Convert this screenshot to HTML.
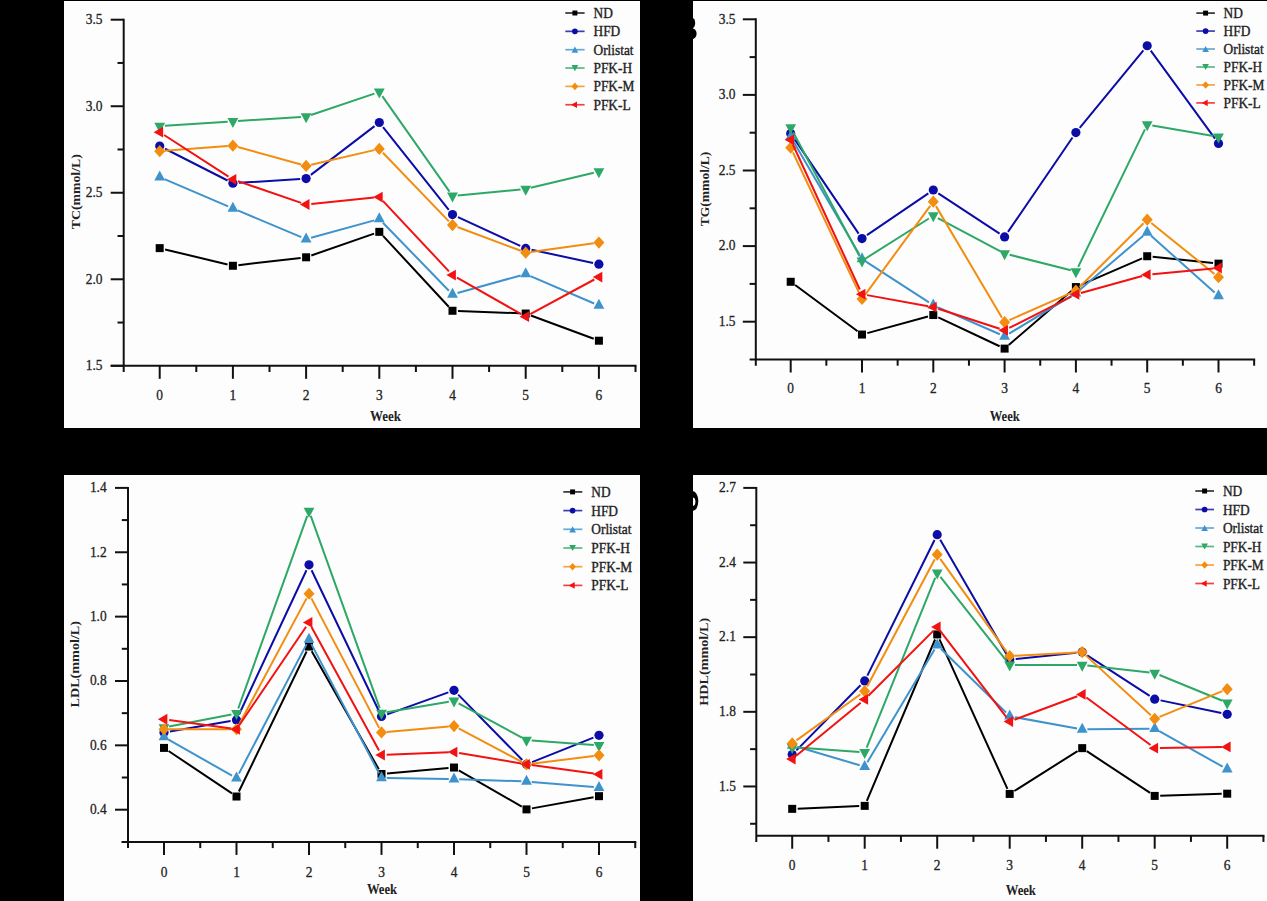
<!DOCTYPE html><html><head><meta charset="utf-8"><style>html,body{margin:0;padding:0;background:#000;}body{width:1267px;height:901px;overflow:hidden;}svg{display:block;}text{font-family:"Liberation Serif",serif;}</style></head><body>
<svg width="1267" height="901" viewBox="0 0 1267 901">
<rect x="0" y="0" width="1267" height="901" fill="#000"/>
<rect x="64" y="1" width="576" height="427" fill="#fdfdfd"/>
<g stroke="#111111" stroke-width="2.0" stroke-linecap="butt"><line x1="123.7" y1="18.7" x2="123.7" y2="372"/><line x1="110.7" y1="365.8" x2="636.5" y2="365.8"/><line x1="110.7" y1="19.7" x2="123.7" y2="19.7"/><line x1="110.7" y1="106.23" x2="123.7" y2="106.23"/><line x1="110.7" y1="192.75" x2="123.7" y2="192.75"/><line x1="110.7" y1="279.28" x2="123.7" y2="279.28"/><line x1="110.7" y1="365.8" x2="123.7" y2="365.8"/><line x1="117.5" y1="62.96" x2="123.7" y2="62.96"/><line x1="117.5" y1="149.49" x2="123.7" y2="149.49"/><line x1="117.5" y1="236.01" x2="123.7" y2="236.01"/><line x1="117.5" y1="322.54" x2="123.7" y2="322.54"/><line x1="159.7" y1="365.8" x2="159.7" y2="378.8"/><line x1="232.9" y1="365.8" x2="232.9" y2="378.8"/><line x1="306.1" y1="365.8" x2="306.1" y2="378.8"/><line x1="379.3" y1="365.8" x2="379.3" y2="378.8"/><line x1="452.5" y1="365.8" x2="452.5" y2="378.8"/><line x1="525.7" y1="365.8" x2="525.7" y2="378.8"/><line x1="598.9" y1="365.8" x2="598.9" y2="378.8"/><line x1="196.3" y1="365.8" x2="196.3" y2="372"/><line x1="269.5" y1="365.8" x2="269.5" y2="372"/><line x1="342.7" y1="365.8" x2="342.7" y2="372"/><line x1="415.9" y1="365.8" x2="415.9" y2="372"/><line x1="489.1" y1="365.8" x2="489.1" y2="372"/><line x1="562.3" y1="365.8" x2="562.3" y2="372"/><line x1="635.5" y1="365.8" x2="635.5" y2="372"/></g>
<g font-size="14.6" fill="#222222" stroke="#222222" stroke-width="0.3"><text transform="translate(102.5,24) scale(0.92,1)" text-anchor="end">3.5</text><text transform="translate(102.5,110.53) scale(0.92,1)" text-anchor="end">3.0</text><text transform="translate(102.5,197.05) scale(0.92,1)" text-anchor="end">2.5</text><text transform="translate(102.5,283.58) scale(0.92,1)" text-anchor="end">2.0</text><text transform="translate(102.5,370.1) scale(0.92,1)" text-anchor="end">1.5</text><text transform="translate(159.7,399.5) scale(0.92,1)" text-anchor="middle">0</text><text transform="translate(232.9,399.5) scale(0.92,1)" text-anchor="middle">1</text><text transform="translate(306.1,399.5) scale(0.92,1)" text-anchor="middle">2</text><text transform="translate(379.3,399.5) scale(0.92,1)" text-anchor="middle">3</text><text transform="translate(452.5,399.5) scale(0.92,1)" text-anchor="middle">4</text><text transform="translate(525.7,399.5) scale(0.92,1)" text-anchor="middle">5</text><text transform="translate(598.9,399.5) scale(0.92,1)" text-anchor="middle">6</text></g>
<text x="370.1" y="420.9" font-size="14" font-weight="bold" fill="#222222" textLength="31" lengthAdjust="spacingAndGlyphs">Week</text>
<text transform="translate(79.8,191.7) rotate(-90)" x="0" y="0" font-size="13" font-weight="bold" fill="#222222" text-anchor="middle" textLength="75" lengthAdjust="spacingAndGlyphs">TC(mmol/L)</text>
<path d="M165.05 249.42L227.55 264.49M238.36 265.14L300.64 257.93M311.3 255.49L374.1 233.66M383.04 235.89L448.76 306.74M458 310.98L520.2 313.33M530.86 315.45L593.74 338.79" stroke="#000000" stroke-width="2" fill="none"/>
<rect x="155.7" y="244.13" width="8" height="8" fill="#000000"/><rect x="228.9" y="261.78" width="8" height="8" fill="#000000"/><rect x="302.1" y="253.3" width="8" height="8" fill="#000000"/><rect x="375.3" y="227.86" width="8" height="8" fill="#000000"/><rect x="448.5" y="306.77" width="8" height="8" fill="#000000"/><rect x="521.7" y="309.54" width="8" height="8" fill="#000000"/><rect x="594.9" y="336.71" width="8" height="8" fill="#000000"/>
<path d="M165.05 148.75L227.55 180.51M238.89 182.85L300.11 178.94M310.86 174.91L374.54 126.14M383.03 127.19L448.77 209.86M457.94 217.08L520.26 245.95M531.57 249.73L593.03 262.96" stroke="#0c0ca6" stroke-width="2" fill="none"/>
<circle cx="159.7" cy="146.03" r="4.6" fill="#0c0ca6"/><circle cx="232.9" cy="183.23" r="4.6" fill="#0c0ca6"/><circle cx="306.1" cy="178.56" r="4.6" fill="#0c0ca6"/><circle cx="379.3" cy="122.49" r="4.6" fill="#0c0ca6"/><circle cx="452.5" cy="214.55" r="4.6" fill="#0c0ca6"/><circle cx="525.7" cy="248.47" r="4.6" fill="#0c0ca6"/><circle cx="598.9" cy="264.22" r="4.6" fill="#0c0ca6"/>
<path d="M164.48 179.16L228.12 206.39M237.7 210.44L301.3 237.06M311.11 237.69L374.29 220.37M382.92 222.73L448.88 290.71M457.51 293.05L520.69 275.42M530.48 276.08L594.12 303.46" stroke="#3f93cc" stroke-width="2" fill="none"/>
<polygon points="159.7,170.44 165.1,180.44 154.3,180.44" fill="#3f93cc"/><polygon points="232.9,201.77 238.3,211.77 227.5,211.77" fill="#3f93cc"/><polygon points="306.1,232.4 311.5,242.4 300.7,242.4" fill="#3f93cc"/><polygon points="379.3,212.32 384.7,222.32 373.9,222.32" fill="#3f93cc"/><polygon points="452.5,287.77 457.9,297.77 447.1,297.77" fill="#3f93cc"/><polygon points="525.7,267.35 531.1,277.35 520.3,277.35" fill="#3f93cc"/><polygon points="598.9,298.85 604.3,308.85 593.5,308.85" fill="#3f93cc"/>
<path d="M164.89 125.84L227.71 121.68M238.09 121.01L300.91 117M311.03 115L374.37 93.59M382.29 96.17L449.51 191.67M457.68 195.44L520.52 189.49M530.76 187.8L593.84 172.73" stroke="#2ea866" stroke-width="2" fill="none"/>
<polygon points="154.3,122.86 165.1,122.86 159.7,132.86" fill="#2ea866"/><polygon points="227.5,118.01 238.3,118.01 232.9,128.01" fill="#2ea866"/><polygon points="300.7,113.34 311.5,113.34 306.1,123.34" fill="#2ea866"/><polygon points="373.9,88.59 384.7,88.59 379.3,98.59" fill="#2ea866"/><polygon points="447.1,192.6 457.9,192.6 452.5,202.6" fill="#2ea866"/><polygon points="520.3,185.67 531.1,185.67 525.7,195.67" fill="#2ea866"/><polygon points="593.5,168.2 604.3,168.2 598.9,178.2" fill="#2ea866"/>
<path d="M164.89 150.83L227.71 146.07M237.91 147.07L301.09 164.54M311.17 164.75L374.23 150.14M382.9 152.72L448.9 221.36M457.37 226.94L520.83 250.8M530.85 251.92L593.75 243.29" stroke="#f28d10" stroke-width="2" fill="none"/>
<polygon points="159.7,145.12 165.2,151.22 159.7,157.32 154.2,151.22" fill="#f28d10"/><polygon points="232.9,139.58 238.4,145.68 232.9,151.78 227.4,145.68" fill="#f28d10"/><polygon points="306.1,159.83 311.6,165.93 306.1,172.03 300.6,165.93" fill="#f28d10"/><polygon points="379.3,142.87 384.8,148.97 379.3,155.07 373.8,148.97" fill="#f28d10"/><polygon points="452.5,219.01 458,225.11 452.5,231.21 447,225.11" fill="#f28d10"/><polygon points="525.7,246.53 531.2,252.63 525.7,258.73 520.2,252.63" fill="#f28d10"/><polygon points="598.9,236.49 604.4,242.59 598.9,248.69 593.4,242.59" fill="#f28d10"/>
<path d="M164.07 135L228.53 176.61M237.82 181.11L301.18 202.83M311.27 203.99L374.13 197.6M382.86 200.87L448.94 271.33M457.02 277.69L521.18 314.09M530.27 314.18L594.33 279.5" stroke="#f21212" stroke-width="2" fill="none"/>
<polygon points="153.6,132.18 163.1,126.78 163.1,137.58" fill="#f21212"/><polygon points="226.8,179.43 236.3,174.03 236.3,184.83" fill="#f21212"/><polygon points="300,204.52 309.5,199.12 309.5,209.92" fill="#f21212"/><polygon points="373.2,197.08 382.7,191.68 382.7,202.48" fill="#f21212"/><polygon points="446.4,275.12 455.9,269.72 455.9,280.52" fill="#f21212"/><polygon points="519.6,316.65 529.1,311.25 529.1,322.05" fill="#f21212"/><polygon points="592.8,277.03 602.3,271.63 602.3,282.43" fill="#f21212"/>
<line x1="565.3" y1="13" x2="584.6" y2="13" stroke="#000000" stroke-width="1.7" stroke-opacity="0.8"/>
<rect x="572.42" y="10.52" width="4.96" height="4.96" fill="#000000"/>
<text transform="translate(593.5,18) scale(0.955,1)" font-size="14" fill="#222222" stroke="#222222" stroke-width="0.35">ND</text>
<line x1="565.3" y1="31.35" x2="584.6" y2="31.35" stroke="#0c0ca6" stroke-width="1.7" stroke-opacity="0.8"/>
<circle cx="574.9" cy="31.35" r="2.85" fill="#0c0ca6"/>
<text transform="translate(593.5,36.35) scale(0.955,1)" font-size="14" fill="#222222" stroke="#222222" stroke-width="0.35">HFD</text>
<line x1="565.3" y1="49.7" x2="584.6" y2="49.7" stroke="#3f93cc" stroke-width="1.7" stroke-opacity="0.8"/>
<polygon points="574.9,46.6 578.25,52.8 571.55,52.8" fill="#3f93cc"/>
<text transform="translate(593.5,54.7) scale(0.955,1)" font-size="14" fill="#222222" stroke="#222222" stroke-width="0.35">Orlistat</text>
<line x1="565.3" y1="68.05" x2="584.6" y2="68.05" stroke="#2ea866" stroke-width="1.7" stroke-opacity="0.8"/>
<polygon points="571.55,64.95 578.25,64.95 574.9,71.15" fill="#2ea866"/>
<text transform="translate(593.5,73.05) scale(0.955,1)" font-size="14" fill="#222222" stroke="#222222" stroke-width="0.35">PFK-H</text>
<line x1="565.3" y1="86.4" x2="584.6" y2="86.4" stroke="#f28d10" stroke-width="1.7" stroke-opacity="0.8"/>
<polygon points="574.9,82.62 578.31,86.4 574.9,90.18 571.49,86.4" fill="#f28d10"/>
<text transform="translate(593.5,91.4) scale(0.955,1)" font-size="14" fill="#222222" stroke="#222222" stroke-width="0.35">PFK-M</text>
<line x1="565.3" y1="104.75" x2="584.6" y2="104.75" stroke="#f21212" stroke-width="1.7" stroke-opacity="0.8"/>
<polygon points="571.12,104.75 577.01,101.4 577.01,108.1" fill="#f21212"/>
<text transform="translate(593.5,109.75) scale(0.955,1)" font-size="14" fill="#222222" stroke="#222222" stroke-width="0.35">PFK-L</text>
<rect x="693" y="1" width="574" height="427" fill="#fdfdfd"/>
<ellipse cx="692" cy="23" rx="3.2" ry="5.3" fill="#000"/>
<ellipse cx="692" cy="33.6" rx="4.6" ry="5.4" fill="#000"/>
<rect x="640" y="1" width="53" height="427" fill="#000"/>
<g stroke="#111111" stroke-width="2.0" stroke-linecap="butt"><line x1="755.8" y1="18.3" x2="755.8" y2="365.7"/><line x1="749.6" y1="359.5" x2="1255.15" y2="359.5"/><line x1="742.8" y1="19.3" x2="755.8" y2="19.3"/><line x1="742.8" y1="94.9" x2="755.8" y2="94.9"/><line x1="742.8" y1="170.5" x2="755.8" y2="170.5"/><line x1="742.8" y1="246.1" x2="755.8" y2="246.1"/><line x1="742.8" y1="321.7" x2="755.8" y2="321.7"/><line x1="749.6" y1="57.1" x2="755.8" y2="57.1"/><line x1="749.6" y1="132.7" x2="755.8" y2="132.7"/><line x1="749.6" y1="208.3" x2="755.8" y2="208.3"/><line x1="749.6" y1="283.9" x2="755.8" y2="283.9"/><line x1="790.7" y1="359.5" x2="790.7" y2="372.5"/><line x1="862" y1="359.5" x2="862" y2="372.5"/><line x1="933.3" y1="359.5" x2="933.3" y2="372.5"/><line x1="1004.6" y1="359.5" x2="1004.6" y2="372.5"/><line x1="1075.9" y1="359.5" x2="1075.9" y2="372.5"/><line x1="1147.2" y1="359.5" x2="1147.2" y2="372.5"/><line x1="1218.5" y1="359.5" x2="1218.5" y2="372.5"/><line x1="826.35" y1="359.5" x2="826.35" y2="365.7"/><line x1="897.65" y1="359.5" x2="897.65" y2="365.7"/><line x1="968.95" y1="359.5" x2="968.95" y2="365.7"/><line x1="1040.25" y1="359.5" x2="1040.25" y2="365.7"/><line x1="1111.55" y1="359.5" x2="1111.55" y2="365.7"/><line x1="1182.85" y1="359.5" x2="1182.85" y2="365.7"/><line x1="1254.15" y1="359.5" x2="1254.15" y2="365.7"/></g>
<g font-size="14.6" fill="#222222" stroke="#222222" stroke-width="0.3"><text transform="translate(735.5,23.6) scale(0.92,1)" text-anchor="end">3.5</text><text transform="translate(735.5,99.2) scale(0.92,1)" text-anchor="end">3.0</text><text transform="translate(735.5,174.8) scale(0.92,1)" text-anchor="end">2.5</text><text transform="translate(735.5,250.4) scale(0.92,1)" text-anchor="end">2.0</text><text transform="translate(735.5,326) scale(0.92,1)" text-anchor="end">1.5</text><text transform="translate(790.7,393.4) scale(0.92,1)" text-anchor="middle">0</text><text transform="translate(862,393.4) scale(0.92,1)" text-anchor="middle">1</text><text transform="translate(933.3,393.4) scale(0.92,1)" text-anchor="middle">2</text><text transform="translate(1004.6,393.4) scale(0.92,1)" text-anchor="middle">3</text><text transform="translate(1075.9,393.4) scale(0.92,1)" text-anchor="middle">4</text><text transform="translate(1147.2,393.4) scale(0.92,1)" text-anchor="middle">5</text><text transform="translate(1218.5,393.4) scale(0.92,1)" text-anchor="middle">6</text></g>
<text x="989.7" y="421.25" font-size="14" font-weight="bold" fill="#222222" textLength="30.1" lengthAdjust="spacingAndGlyphs">Week</text>
<text transform="translate(708.9,189) rotate(-90)" x="0" y="0" font-size="13" font-weight="bold" fill="#222222" text-anchor="middle" textLength="74.6" lengthAdjust="spacingAndGlyphs">TG(mmol/L)</text>
<path d="M795.12 285.06L857.58 331.28M867.31 333.1L927.99 316.5M938.28 317.39L999.62 346.27M1008.76 345.02L1071.74 290.67M1080.95 284.89L1142.15 258.41M1152.67 256.8L1213.03 263.07" stroke="#000000" stroke-width="2" fill="none"/>
<rect x="786.7" y="277.78" width="8" height="8" fill="#000000"/><rect x="858" y="330.55" width="8" height="8" fill="#000000"/><rect x="929.3" y="311.05" width="8" height="8" fill="#000000"/><rect x="1000.6" y="344.61" width="8" height="8" fill="#000000"/><rect x="1071.9" y="283.08" width="8" height="8" fill="#000000"/><rect x="1143.2" y="252.23" width="8" height="8" fill="#000000"/><rect x="1214.5" y="259.64" width="8" height="8" fill="#000000"/>
<path d="M794.07 138.42L858.63 233.57M866.96 235.16L928.34 193.38M938.31 193.3L999.59 233.58M1007.99 231.92L1072.51 137.5M1079.71 127.91L1143.39 50.4M1150.74 50.61L1214.96 138.59" stroke="#0c0ca6" stroke-width="2" fill="none"/>
<circle cx="790.7" cy="133.46" r="4.6" fill="#0c0ca6"/><circle cx="862" cy="238.54" r="4.6" fill="#0c0ca6"/><circle cx="933.3" cy="190" r="4.6" fill="#0c0ca6"/><circle cx="1004.6" cy="236.88" r="4.6" fill="#0c0ca6"/><circle cx="1075.9" cy="132.55" r="4.6" fill="#0c0ca6"/><circle cx="1147.2" cy="45.76" r="4.6" fill="#0c0ca6"/><circle cx="1218.5" cy="143.44" r="4.6" fill="#0c0ca6"/>
<path d="M793.32 141.13L859.38 254.47M866.36 261.79L928.94 302.4M938.07 307.31L999.83 334.29M1009.05 333.68L1071.45 295.83M1079.86 289.76L1143.24 235.72M1151.08 235.81L1214.62 292.54" stroke="#3f93cc" stroke-width="2" fill="none"/>
<polygon points="790.7,129.97 796.1,139.97 785.3,139.97" fill="#3f93cc"/><polygon points="862,252.29 867.4,262.29 856.6,262.29" fill="#3f93cc"/><polygon points="933.3,298.56 938.7,308.56 927.9,308.56" fill="#3f93cc"/><polygon points="1004.6,329.7 1010,339.7 999.2,339.7" fill="#3f93cc"/><polygon points="1075.9,286.46 1081.3,296.46 1070.5,296.46" fill="#3f93cc"/><polygon points="1147.2,225.68 1152.6,235.68 1141.8,235.68" fill="#3f93cc"/><polygon points="1218.5,289.33 1223.9,299.33 1213.1,299.33" fill="#3f93cc"/>
<path d="M793.16 132.29L859.54 256.18M866.4 257.98L928.9 218.48M937.89 218.14L1000.01 251.07M1009.64 254.77L1070.86 270.22M1078.17 266.82L1144.93 129.36M1152.33 125.55L1213.37 135.91" stroke="#2ea866" stroke-width="2" fill="none"/>
<polygon points="785.3,124.37 796.1,124.37 790.7,134.37" fill="#2ea866"/><polygon points="856.6,257.43 867.4,257.43 862,267.43" fill="#2ea866"/><polygon points="927.9,212.37 938.7,212.37 933.3,222.37" fill="#2ea866"/><polygon points="999.2,250.17 1010,250.17 1004.6,260.17" fill="#2ea866"/><polygon points="1070.5,268.16 1081.3,268.16 1075.9,278.16" fill="#2ea866"/><polygon points="1141.8,121.35 1152.6,121.35 1147.2,131.35" fill="#2ea866"/><polygon points="1213.1,133.45 1223.9,133.45 1218.5,143.45" fill="#2ea866"/>
<path d="M792.92 152.37L859.78 294.32M865.07 294.82L930.23 205.84M935.95 206.12L1001.95 317.68M1009.36 320.06L1071.14 292.8M1079.58 287.03L1143.52 223.31M1151.24 222.91L1214.46 273.98" stroke="#f28d10" stroke-width="2" fill="none"/>
<polygon points="790.7,141.57 796.2,147.67 790.7,153.77 785.2,147.67" fill="#f28d10"/><polygon points="862,292.92 867.5,299.02 862,305.12 856.5,299.02" fill="#f28d10"/><polygon points="933.3,195.55 938.8,201.65 933.3,207.75 927.8,201.65" fill="#f28d10"/><polygon points="1004.6,316.05 1010.1,322.15 1004.6,328.25 999.1,322.15" fill="#f28d10"/><polygon points="1075.9,284.6 1081.4,290.7 1075.9,296.8 1070.4,290.7" fill="#f28d10"/><polygon points="1147.2,213.54 1152.7,219.64 1147.2,225.74 1141.7,219.64" fill="#f28d10"/><polygon points="1218.5,271.15 1224,277.25 1218.5,283.35 1213,277.25" fill="#f28d10"/>
<path d="M792.88 144.53L859.82 289.46M867.12 295.11L928.18 306.25M938.25 308.79L999.65 328.71M1009.24 327.98L1071.26 296.68M1080.91 292.95L1142.19 276.06M1152.38 274.19L1213.32 268.51" stroke="#f21212" stroke-width="2" fill="none"/>
<polygon points="784.6,139.81 794.1,134.41 794.1,145.21" fill="#f21212"/><polygon points="855.9,294.18 865.4,288.78 865.4,299.58" fill="#f21212"/><polygon points="927.2,307.18 936.7,301.78 936.7,312.58" fill="#f21212"/><polygon points="998.5,330.32 1008,324.92 1008,335.72" fill="#f21212"/><polygon points="1069.8,294.33 1079.3,288.93 1079.3,299.73" fill="#f21212"/><polygon points="1141.1,274.68 1150.6,269.28 1150.6,280.08" fill="#f21212"/><polygon points="1212.4,268.02 1221.9,262.62 1221.9,273.42" fill="#f21212"/>
<line x1="1196.3" y1="13.1" x2="1214.9" y2="13.1" stroke="#000000" stroke-width="1.7" stroke-opacity="0.8"/>
<rect x="1203.12" y="10.62" width="4.96" height="4.96" fill="#000000"/>
<text transform="translate(1223.6,18.1) scale(0.955,1)" font-size="14" fill="#222222" stroke="#222222" stroke-width="0.35">ND</text>
<line x1="1196.3" y1="31.06" x2="1214.9" y2="31.06" stroke="#0c0ca6" stroke-width="1.7" stroke-opacity="0.8"/>
<circle cx="1205.6" cy="31.06" r="2.85" fill="#0c0ca6"/>
<text transform="translate(1223.6,36.06) scale(0.955,1)" font-size="14" fill="#222222" stroke="#222222" stroke-width="0.35">HFD</text>
<line x1="1196.3" y1="49.02" x2="1214.9" y2="49.02" stroke="#3f93cc" stroke-width="1.7" stroke-opacity="0.8"/>
<polygon points="1205.6,45.92 1208.95,52.12 1202.25,52.12" fill="#3f93cc"/>
<text transform="translate(1223.6,54.02) scale(0.955,1)" font-size="14" fill="#222222" stroke="#222222" stroke-width="0.35">Orlistat</text>
<line x1="1196.3" y1="66.98" x2="1214.9" y2="66.98" stroke="#2ea866" stroke-width="1.7" stroke-opacity="0.8"/>
<polygon points="1202.25,63.88 1208.95,63.88 1205.6,70.08" fill="#2ea866"/>
<text transform="translate(1223.6,71.98) scale(0.955,1)" font-size="14" fill="#222222" stroke="#222222" stroke-width="0.35">PFK-H</text>
<line x1="1196.3" y1="84.94" x2="1214.9" y2="84.94" stroke="#f28d10" stroke-width="1.7" stroke-opacity="0.8"/>
<polygon points="1205.6,81.16 1209.01,84.94 1205.6,88.72 1202.19,84.94" fill="#f28d10"/>
<text transform="translate(1223.6,89.94) scale(0.955,1)" font-size="14" fill="#222222" stroke="#222222" stroke-width="0.35">PFK-M</text>
<line x1="1196.3" y1="102.9" x2="1214.9" y2="102.9" stroke="#f21212" stroke-width="1.7" stroke-opacity="0.8"/>
<polygon points="1201.82,102.9 1207.71,99.55 1207.71,106.25" fill="#f21212"/>
<text transform="translate(1223.6,107.9) scale(0.955,1)" font-size="14" fill="#222222" stroke="#222222" stroke-width="0.35">PFK-L</text>
<rect x="64" y="475" width="576" height="426" fill="#fdfdfd"/>
<g stroke="#111111" stroke-width="2.0" stroke-linecap="butt"><line x1="128" y1="486.9" x2="128" y2="848.08"/><line x1="121.5" y1="841.88" x2="636.25" y2="841.88"/><line x1="115" y1="487.9" x2="128" y2="487.9"/><line x1="115" y1="552.26" x2="128" y2="552.26"/><line x1="115" y1="616.62" x2="128" y2="616.62"/><line x1="115" y1="680.98" x2="128" y2="680.98"/><line x1="115" y1="745.34" x2="128" y2="745.34"/><line x1="115" y1="809.7" x2="128" y2="809.7"/><line x1="121.8" y1="520.08" x2="128" y2="520.08"/><line x1="121.8" y1="584.44" x2="128" y2="584.44"/><line x1="121.8" y1="648.8" x2="128" y2="648.8"/><line x1="121.8" y1="713.16" x2="128" y2="713.16"/><line x1="121.8" y1="777.52" x2="128" y2="777.52"/><line x1="164" y1="841.88" x2="164" y2="854.88"/><line x1="236.5" y1="841.88" x2="236.5" y2="854.88"/><line x1="309" y1="841.88" x2="309" y2="854.88"/><line x1="381.5" y1="841.88" x2="381.5" y2="854.88"/><line x1="454" y1="841.88" x2="454" y2="854.88"/><line x1="526.5" y1="841.88" x2="526.5" y2="854.88"/><line x1="599" y1="841.88" x2="599" y2="854.88"/><line x1="200.25" y1="841.88" x2="200.25" y2="848.08"/><line x1="272.75" y1="841.88" x2="272.75" y2="848.08"/><line x1="345.25" y1="841.88" x2="345.25" y2="848.08"/><line x1="417.75" y1="841.88" x2="417.75" y2="848.08"/><line x1="490.25" y1="841.88" x2="490.25" y2="848.08"/><line x1="562.75" y1="841.88" x2="562.75" y2="848.08"/><line x1="635.25" y1="841.88" x2="635.25" y2="848.08"/></g>
<g font-size="14.6" fill="#222222" stroke="#222222" stroke-width="0.3"><text transform="translate(106.7,492.2) scale(0.92,1)" text-anchor="end">1.4</text><text transform="translate(106.7,556.56) scale(0.92,1)" text-anchor="end">1.2</text><text transform="translate(106.7,620.92) scale(0.92,1)" text-anchor="end">1.0</text><text transform="translate(106.7,685.28) scale(0.92,1)" text-anchor="end">0.8</text><text transform="translate(106.7,749.64) scale(0.92,1)" text-anchor="end">0.6</text><text transform="translate(106.7,814) scale(0.92,1)" text-anchor="end">0.4</text><text transform="translate(164,877.28) scale(0.92,1)" text-anchor="middle">0</text><text transform="translate(236.5,877.28) scale(0.92,1)" text-anchor="middle">1</text><text transform="translate(309,877.28) scale(0.92,1)" text-anchor="middle">2</text><text transform="translate(381.5,877.28) scale(0.92,1)" text-anchor="middle">3</text><text transform="translate(454,877.28) scale(0.92,1)" text-anchor="middle">4</text><text transform="translate(526.5,877.28) scale(0.92,1)" text-anchor="middle">5</text><text transform="translate(599,877.28) scale(0.92,1)" text-anchor="middle">6</text></g>
<text x="366.9" y="894.4" font-size="14" font-weight="bold" fill="#222222" textLength="30.2" lengthAdjust="spacingAndGlyphs">Week</text>
<text transform="translate(79.3,664.25) rotate(-90)" x="0" y="0" font-size="13" font-weight="bold" fill="#222222" text-anchor="middle" textLength="86.5" lengthAdjust="spacingAndGlyphs">LDL(mmol/L)</text>
<path d="M168.57 750.98L231.93 793.44M238.89 791.55L306.61 651.5M311.72 651.33L378.78 769.2M386.98 773.49L448.52 768.03M458.76 770.29L521.74 806.63M531.91 808.39L593.59 797.17" stroke="#000000" stroke-width="2" fill="none"/>
<rect x="160" y="743.91" width="8" height="8" fill="#000000"/><rect x="232.5" y="792.51" width="8" height="8" fill="#000000"/><rect x="305" y="642.55" width="8" height="8" fill="#000000"/><rect x="377.5" y="769.98" width="8" height="8" fill="#000000"/><rect x="450" y="763.54" width="8" height="8" fill="#000000"/><rect x="522.5" y="805.38" width="8" height="8" fill="#000000"/><rect x="595" y="792.18" width="8" height="8" fill="#000000"/>
<path d="M169.91 731.44L230.59 720.94M239.04 714.48L306.46 570.25M311.59 570.22L378.91 710.97M387.15 714.35L448.35 692.34M458.2 694.6L522.3 760.04M532.07 762.1L593.43 737.59" stroke="#0c0ca6" stroke-width="2" fill="none"/>
<circle cx="164" cy="732.47" r="4.6" fill="#0c0ca6"/><circle cx="236.5" cy="719.92" r="4.6" fill="#0c0ca6"/><circle cx="309" cy="564.81" r="4.6" fill="#0c0ca6"/><circle cx="381.5" cy="716.38" r="4.6" fill="#0c0ca6"/><circle cx="454" cy="690.31" r="4.6" fill="#0c0ca6"/><circle cx="526.5" cy="764.33" r="4.6" fill="#0c0ca6"/><circle cx="599" cy="735.36" r="4.6" fill="#0c0ca6"/>
<path d="M168.52 739.6L231.98 775.66M238.91 773.62L306.59 644.14M311.41 644.13L379.09 773.3M386.7 778L448.8 779.1M459.2 779.35L521.3 781.28M531.68 781.88L593.82 787.12" stroke="#3f93cc" stroke-width="2" fill="none"/>
<polygon points="164,730.36 169.4,740.36 158.6,740.36" fill="#3f93cc"/><polygon points="236.5,771.55 241.9,781.55 231.1,781.55" fill="#3f93cc"/><polygon points="309,632.86 314.4,642.86 303.6,642.86" fill="#3f93cc"/><polygon points="381.5,771.23 386.9,781.23 376.1,781.23" fill="#3f93cc"/><polygon points="454,772.52 459.4,782.52 448.6,782.52" fill="#3f93cc"/><polygon points="526.5,774.77 531.9,784.77 521.1,784.77" fill="#3f93cc"/><polygon points="599,780.89 604.4,790.89 593.6,790.89" fill="#3f93cc"/>
<path d="M169.1 726.58L231.4 714.42M238.25 708.53L307.25 515.9M310.76 515.9L379.74 708.2M386.63 712.23L448.87 701.74M458.57 703.35L521.93 737.65M531.69 740.5L593.81 744.91" stroke="#2ea866" stroke-width="2" fill="none"/>
<polygon points="158.6,724.25 169.4,724.25 164,734.25" fill="#2ea866"/><polygon points="231.1,710.09 241.9,710.09 236.5,720.09" fill="#2ea866"/><polygon points="303.6,507.68 314.4,507.68 309,517.68" fill="#2ea866"/><polygon points="376.1,709.77 386.9,709.77 381.5,719.77" fill="#2ea866"/><polygon points="448.6,697.54 459.4,697.54 454,707.54" fill="#2ea866"/><polygon points="521.1,736.8 531.9,736.8 526.5,746.8" fill="#2ea866"/><polygon points="593.6,741.95 604.4,741.95 599,751.95" fill="#2ea866"/>
<path d="M169.2 729.25L231.3 729.25M238.95 724.67L306.55 598.36M311.41 598.38L379.09 727.86M386.68 732.01L448.82 726.49M458.6 728.46L521.9 761.9M531.66 763.68L593.84 755.96" stroke="#f28d10" stroke-width="2" fill="none"/>
<polygon points="164,723.15 169.5,729.25 164,735.35 158.5,729.25" fill="#f28d10"/><polygon points="236.5,723.15 242,729.25 236.5,735.35 231,729.25" fill="#f28d10"/><polygon points="309,587.67 314.5,593.77 309,599.87 303.5,593.77" fill="#f28d10"/><polygon points="381.5,726.37 387,732.47 381.5,738.57 376,732.47" fill="#f28d10"/><polygon points="454,719.93 459.5,726.03 454,732.13 448.5,726.03" fill="#f28d10"/><polygon points="526.5,758.23 532,764.33 526.5,770.43 521,764.33" fill="#f28d10"/><polygon points="599,749.22 604.5,755.32 599,761.42 593.5,755.32" fill="#f28d10"/>
<path d="M169.15 719.98L231.35 728.54M239.42 724.95L306.08 626.72M311.49 626.97L379.01 750.43M386.7 754.79L448.8 752.31M459.13 752.96L521.37 763.46M531.65 765.04L593.85 773.59" stroke="#f21212" stroke-width="2" fill="none"/>
<polygon points="157.9,719.27 167.4,713.87 167.4,724.67" fill="#f21212"/><polygon points="230.4,729.25 239.9,723.85 239.9,734.65" fill="#f21212"/><polygon points="302.9,622.41 312.4,617.01 312.4,627.81" fill="#f21212"/><polygon points="375.4,754.99 384.9,749.59 384.9,760.39" fill="#f21212"/><polygon points="447.9,752.1 457.4,746.7 457.4,757.5" fill="#f21212"/><polygon points="520.4,764.33 529.9,758.93 529.9,769.73" fill="#f21212"/><polygon points="592.9,774.3 602.4,768.9 602.4,779.7" fill="#f21212"/>
<line x1="563.3" y1="491.9" x2="582.3" y2="491.9" stroke="#000000" stroke-width="1.7" stroke-opacity="0.8"/>
<rect x="570.12" y="489.42" width="4.96" height="4.96" fill="#000000"/>
<text transform="translate(591.3,496.9) scale(0.955,1)" font-size="14" fill="#222222" stroke="#222222" stroke-width="0.35">ND</text>
<line x1="563.3" y1="510.6" x2="582.3" y2="510.6" stroke="#0c0ca6" stroke-width="1.7" stroke-opacity="0.8"/>
<circle cx="572.6" cy="510.6" r="2.85" fill="#0c0ca6"/>
<text transform="translate(591.3,515.6) scale(0.955,1)" font-size="14" fill="#222222" stroke="#222222" stroke-width="0.35">HFD</text>
<line x1="563.3" y1="529.3" x2="582.3" y2="529.3" stroke="#3f93cc" stroke-width="1.7" stroke-opacity="0.8"/>
<polygon points="572.6,526.2 575.95,532.4 569.25,532.4" fill="#3f93cc"/>
<text transform="translate(591.3,534.3) scale(0.955,1)" font-size="14" fill="#222222" stroke="#222222" stroke-width="0.35">Orlistat</text>
<line x1="563.3" y1="548" x2="582.3" y2="548" stroke="#2ea866" stroke-width="1.7" stroke-opacity="0.8"/>
<polygon points="569.25,544.9 575.95,544.9 572.6,551.1" fill="#2ea866"/>
<text transform="translate(591.3,553) scale(0.955,1)" font-size="14" fill="#222222" stroke="#222222" stroke-width="0.35">PFK-H</text>
<line x1="563.3" y1="566.7" x2="582.3" y2="566.7" stroke="#f28d10" stroke-width="1.7" stroke-opacity="0.8"/>
<polygon points="572.6,562.92 576.01,566.7 572.6,570.48 569.19,566.7" fill="#f28d10"/>
<text transform="translate(591.3,571.7) scale(0.955,1)" font-size="14" fill="#222222" stroke="#222222" stroke-width="0.35">PFK-M</text>
<line x1="563.3" y1="585.4" x2="582.3" y2="585.4" stroke="#f21212" stroke-width="1.7" stroke-opacity="0.8"/>
<polygon points="568.82,585.4 574.71,582.05 574.71,588.75" fill="#f21212"/>
<text transform="translate(591.3,590.4) scale(0.955,1)" font-size="14" fill="#222222" stroke="#222222" stroke-width="0.35">PFK-L</text>
<rect x="693" y="475" width="574" height="426" fill="#fdfdfd"/>
<ellipse cx="692.5" cy="501.1" rx="5.8" ry="10" fill="#000"/>
<ellipse cx="692.5" cy="501.8" rx="2.9" ry="4.2" fill="#fdfdfd"/>
<rect x="640" y="475" width="53" height="426" fill="#000"/>
<g stroke="#111111" stroke-width="2.0" stroke-linecap="butt"><line x1="756.3" y1="486.9" x2="756.3" y2="841.92"/><line x1="756.3" y1="835.72" x2="1264.45" y2="835.72"/><line x1="743.3" y1="487.9" x2="756.3" y2="487.9"/><line x1="743.3" y1="562.54" x2="756.3" y2="562.54"/><line x1="743.3" y1="637.18" x2="756.3" y2="637.18"/><line x1="743.3" y1="711.82" x2="756.3" y2="711.82"/><line x1="743.3" y1="786.46" x2="756.3" y2="786.46"/><line x1="750.1" y1="525.22" x2="756.3" y2="525.22"/><line x1="750.1" y1="599.86" x2="756.3" y2="599.86"/><line x1="750.1" y1="674.5" x2="756.3" y2="674.5"/><line x1="750.1" y1="749.14" x2="756.3" y2="749.14"/><line x1="750.1" y1="823.78" x2="756.3" y2="823.78"/><line x1="792.2" y1="835.72" x2="792.2" y2="848.72"/><line x1="864.7" y1="835.72" x2="864.7" y2="848.72"/><line x1="937.2" y1="835.72" x2="937.2" y2="848.72"/><line x1="1009.7" y1="835.72" x2="1009.7" y2="848.72"/><line x1="1082.2" y1="835.72" x2="1082.2" y2="848.72"/><line x1="1154.7" y1="835.72" x2="1154.7" y2="848.72"/><line x1="1227.2" y1="835.72" x2="1227.2" y2="848.72"/><line x1="828.45" y1="835.72" x2="828.45" y2="841.92"/><line x1="900.95" y1="835.72" x2="900.95" y2="841.92"/><line x1="973.45" y1="835.72" x2="973.45" y2="841.92"/><line x1="1045.95" y1="835.72" x2="1045.95" y2="841.92"/><line x1="1118.45" y1="835.72" x2="1118.45" y2="841.92"/><line x1="1190.95" y1="835.72" x2="1190.95" y2="841.92"/><line x1="1263.45" y1="835.72" x2="1263.45" y2="841.92"/></g>
<g font-size="14.6" fill="#222222" stroke="#222222" stroke-width="0.3"><text transform="translate(735.9,492.2) scale(0.92,1)" text-anchor="end">2.7</text><text transform="translate(735.9,566.84) scale(0.92,1)" text-anchor="end">2.4</text><text transform="translate(735.9,641.48) scale(0.92,1)" text-anchor="end">2.1</text><text transform="translate(735.9,716.12) scale(0.92,1)" text-anchor="end">1.8</text><text transform="translate(735.9,790.76) scale(0.92,1)" text-anchor="end">1.5</text><text transform="translate(792.2,870.42) scale(0.92,1)" text-anchor="middle">0</text><text transform="translate(864.7,870.42) scale(0.92,1)" text-anchor="middle">1</text><text transform="translate(937.2,870.42) scale(0.92,1)" text-anchor="middle">2</text><text transform="translate(1009.7,870.42) scale(0.92,1)" text-anchor="middle">3</text><text transform="translate(1082.2,870.42) scale(0.92,1)" text-anchor="middle">4</text><text transform="translate(1154.7,870.42) scale(0.92,1)" text-anchor="middle">5</text><text transform="translate(1227.2,870.42) scale(0.92,1)" text-anchor="middle">6</text></g>
<text x="1005.7" y="895.3" font-size="14" font-weight="bold" fill="#222222" textLength="30.2" lengthAdjust="spacingAndGlyphs">Week</text>
<text transform="translate(708.3,661.75) rotate(-90)" x="0" y="0" font-size="13" font-weight="bold" fill="#222222" text-anchor="middle" textLength="87.9" lengthAdjust="spacingAndGlyphs">HDL(mmol/L)</text>
<path d="M797.7 808.63L859.2 806.09M866.84 800.8L935.06 639.51M939.48 639.45L1007.42 788.92M1014.35 790.99L1077.55 751.08M1086.79 751.17L1150.11 792.89M1160.2 795.74L1221.7 793.84" stroke="#000000" stroke-width="2" fill="none"/>
<rect x="788.2" y="804.85" width="8" height="8" fill="#000000"/><rect x="860.7" y="801.87" width="8" height="8" fill="#000000"/><rect x="933.2" y="630.44" width="8" height="8" fill="#000000"/><rect x="1005.7" y="789.92" width="8" height="8" fill="#000000"/><rect x="1078.2" y="744.14" width="8" height="8" fill="#000000"/><rect x="1150.7" y="791.91" width="8" height="8" fill="#000000"/><rect x="1223.2" y="789.68" width="8" height="8" fill="#000000"/>
<path d="M796.41 750.34L860.49 685.24M867.36 675.59L934.54 540.05M940.21 539.86L1006.69 654.38M1015.67 658.96L1076.23 652.72M1087.23 655.37L1149.67 695.87M1160.57 700.36L1221.33 713.08" stroke="#0c0ca6" stroke-width="2" fill="none"/>
<circle cx="792.2" cy="754.61" r="4.6" fill="#0c0ca6"/><circle cx="864.7" cy="680.97" r="4.6" fill="#0c0ca6"/><circle cx="937.2" cy="534.67" r="4.6" fill="#0c0ca6"/><circle cx="1009.7" cy="659.57" r="4.6" fill="#0c0ca6"/><circle cx="1082.2" cy="652.11" r="4.6" fill="#0c0ca6"/><circle cx="1154.7" cy="699.13" r="4.6" fill="#0c0ca6"/><circle cx="1227.2" cy="714.31" r="4.6" fill="#0c0ca6"/>
<path d="M797.19 746.81L859.71 765.26M867.36 762.27L934.54 649.54M940.91 648.71L1005.99 712.58M1014.82 717.16L1077.08 728.48M1087.4 729.36L1149.5 728.72M1159.24 731.21L1222.66 766.68" stroke="#3f93cc" stroke-width="2" fill="none"/>
<polygon points="792.2,738.67 797.6,748.67 786.8,748.67" fill="#3f93cc"/><polygon points="864.7,760.06 870.1,770.06 859.3,770.06" fill="#3f93cc"/><polygon points="937.2,638.4 942.6,648.4 931.8,648.4" fill="#3f93cc"/><polygon points="1009.7,709.56 1015.1,719.56 1004.3,719.56" fill="#3f93cc"/><polygon points="1082.2,722.74 1087.6,732.74 1076.8,732.74" fill="#3f93cc"/><polygon points="1154.7,722 1160.1,732 1149.3,732" fill="#3f93cc"/><polygon points="1227.2,762.55 1232.6,772.55 1221.8,772.55" fill="#3f93cc"/>
<path d="M797.39 747.59L859.51 752.07M866.65 747.62L935.25 577.63M940.42 576.9L1006.48 660.83M1014.9 664.92L1077 664.96M1087.37 665.54L1149.53 672.45M1159.51 675L1222.39 700.76" stroke="#2ea866" stroke-width="2" fill="none"/>
<polygon points="786.8,743.89 797.6,743.89 792.2,753.89" fill="#2ea866"/><polygon points="859.3,749.12 870.1,749.12 864.7,759.12" fill="#2ea866"/><polygon points="931.8,569.48 942.6,569.48 937.2,579.48" fill="#2ea866"/><polygon points="1004.3,661.59 1015.1,661.59 1009.7,671.59" fill="#2ea866"/><polygon points="1076.8,661.64 1087.6,661.64 1082.2,671.64" fill="#2ea866"/><polygon points="1149.3,669.7 1160.1,669.7 1154.7,679.7" fill="#2ea866"/><polygon points="1221.8,699.41 1232.6,699.41 1227.2,709.41" fill="#2ea866"/>
<path d="M796.42 740.38L860.48 694.21M867.14 686.58L934.76 559.17M940.22 558.81L1006.68 651.86M1014.89 655.8L1077.01 652.39M1086.03 655.63L1150.87 715.27M1159.51 716.82L1222.39 691.15" stroke="#f28d10" stroke-width="2" fill="none"/>
<polygon points="792.2,737.32 797.7,743.42 792.2,749.52 786.7,743.42" fill="#f28d10"/><polygon points="864.7,685.07 870.2,691.17 864.7,697.27 859.2,691.17" fill="#f28d10"/><polygon points="937.2,548.48 942.7,554.58 937.2,560.68 931.7,554.58" fill="#f28d10"/><polygon points="1009.7,649.99 1015.2,656.09 1009.7,662.19 1004.2,656.09" fill="#f28d10"/><polygon points="1082.2,646.01 1087.7,652.11 1082.2,658.21 1076.7,652.11" fill="#f28d10"/><polygon points="1154.7,712.69 1160.2,718.79 1154.7,724.89 1149.2,718.79" fill="#f28d10"/><polygon points="1227.2,683.08 1232.7,689.18 1227.2,695.28 1221.7,689.18" fill="#f28d10"/>
<path d="M796.21 755.79L860.69 702.69M868.38 695.71L933.52 630.65M940.36 631.11L1006.54 717.4M1014.57 719.7L1077.33 696.23M1086.38 697.5L1150.52 745.05M1159.9 748.06L1222 746.99" stroke="#f21212" stroke-width="2" fill="none"/>
<polygon points="786.1,759.09 795.6,753.69 795.6,764.49" fill="#f21212"/><polygon points="858.6,699.38 868.1,693.98 868.1,704.78" fill="#f21212"/><polygon points="931.1,626.98 940.6,621.58 940.6,632.38" fill="#f21212"/><polygon points="1003.6,721.52 1013.1,716.12 1013.1,726.92" fill="#f21212"/><polygon points="1076.1,694.4 1085.6,689 1085.6,699.8" fill="#f21212"/><polygon points="1148.6,748.14 1158.1,742.74 1158.1,753.54" fill="#f21212"/><polygon points="1221.1,746.9 1230.6,741.5 1230.6,752.3" fill="#f21212"/>
<line x1="1195.3" y1="491" x2="1214" y2="491" stroke="#000000" stroke-width="1.7" stroke-opacity="0.8"/>
<rect x="1202.12" y="488.52" width="4.96" height="4.96" fill="#000000"/>
<text transform="translate(1222.9,496) scale(0.955,1)" font-size="14" fill="#222222" stroke="#222222" stroke-width="0.35">ND</text>
<line x1="1195.3" y1="509.5" x2="1214" y2="509.5" stroke="#0c0ca6" stroke-width="1.7" stroke-opacity="0.8"/>
<circle cx="1204.6" cy="509.5" r="2.85" fill="#0c0ca6"/>
<text transform="translate(1222.9,514.5) scale(0.955,1)" font-size="14" fill="#222222" stroke="#222222" stroke-width="0.35">HFD</text>
<line x1="1195.3" y1="528" x2="1214" y2="528" stroke="#3f93cc" stroke-width="1.7" stroke-opacity="0.8"/>
<polygon points="1204.6,524.9 1207.95,531.1 1201.25,531.1" fill="#3f93cc"/>
<text transform="translate(1222.9,533) scale(0.955,1)" font-size="14" fill="#222222" stroke="#222222" stroke-width="0.35">Orlistat</text>
<line x1="1195.3" y1="546.5" x2="1214" y2="546.5" stroke="#2ea866" stroke-width="1.7" stroke-opacity="0.8"/>
<polygon points="1201.25,543.4 1207.95,543.4 1204.6,549.6" fill="#2ea866"/>
<text transform="translate(1222.9,551.5) scale(0.955,1)" font-size="14" fill="#222222" stroke="#222222" stroke-width="0.35">PFK-H</text>
<line x1="1195.3" y1="565" x2="1214" y2="565" stroke="#f28d10" stroke-width="1.7" stroke-opacity="0.8"/>
<polygon points="1204.6,561.22 1208.01,565 1204.6,568.78 1201.19,565" fill="#f28d10"/>
<text transform="translate(1222.9,570) scale(0.955,1)" font-size="14" fill="#222222" stroke="#222222" stroke-width="0.35">PFK-M</text>
<line x1="1195.3" y1="583.5" x2="1214" y2="583.5" stroke="#f21212" stroke-width="1.7" stroke-opacity="0.8"/>
<polygon points="1200.82,583.5 1206.71,580.15 1206.71,586.85" fill="#f21212"/>
<text transform="translate(1222.9,588.5) scale(0.955,1)" font-size="14" fill="#222222" stroke="#222222" stroke-width="0.35">PFK-L</text>
</svg></body></html>
